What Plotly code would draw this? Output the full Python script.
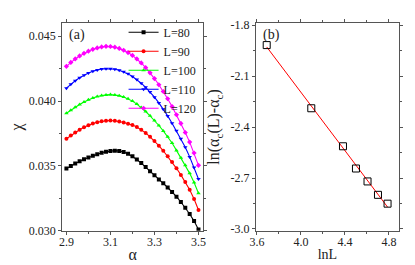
import plotly.graph_objects as go
import numpy as np

# ---------------- data ----------------
alpha = [2.90, 2.92, 2.94, 2.96, 2.98, 3.00, 3.02, 3.04, 3.06, 3.08, 3.10,
         3.12, 3.14, 3.16, 3.18, 3.20, 3.22, 3.24, 3.26, 3.28, 3.30,
         3.32, 3.34, 3.36, 3.38, 3.40, 3.42, 3.44, 3.46, 3.48, 3.50]

chi_L80 = [0.03480, 0.03500, 0.03519, 0.03536, 0.03552, 0.03566, 0.03579, 0.03591, 0.03602, 0.03610, 0.03616,
           0.03618, 0.03615, 0.03608, 0.03594, 0.03575, 0.03550, 0.03522, 0.03492, 0.03460, 0.03428,
           0.03396, 0.03366, 0.03334, 0.03300, 0.03263, 0.03222, 0.03178, 0.03130, 0.03075, 0.03010]
chi_L90 = [0.03710, 0.03735, 0.03758, 0.03779, 0.03798, 0.03814, 0.03827, 0.03837, 0.03844, 0.03848, 0.03850,
           0.03848, 0.03843, 0.03835, 0.03826, 0.03815, 0.03800, 0.03780, 0.03755, 0.03725, 0.03692,
           0.03656, 0.03617, 0.03575, 0.03530, 0.03482, 0.03431, 0.03376, 0.03317, 0.03245, 0.03160]
chi_L100 = [0.03906, 0.03930, 0.03953, 0.03974, 0.03993, 0.04010, 0.04024, 0.04035, 0.04043, 0.04048, 0.04050,
            0.04048, 0.04042, 0.04032, 0.04018, 0.04000, 0.03977, 0.03950, 0.03920, 0.03887, 0.03851,
            0.03812, 0.03770, 0.03725, 0.03677, 0.03620, 0.03564, 0.03505, 0.03443, 0.03372, 0.03290]
chi_L110 = [0.04100, 0.04130, 0.04157, 0.04180, 0.04200, 0.04216, 0.04230, 0.04240, 0.04247, 0.04250, 0.04250,
            0.04246, 0.04238, 0.04226, 0.04210, 0.04190, 0.04166, 0.04138, 0.04106, 0.04070, 0.04030,
            0.03986, 0.03938, 0.03886, 0.03830, 0.03771, 0.03710, 0.03645, 0.03570, 0.03488, 0.03400]
chi_L120 = [0.04268, 0.04298, 0.04325, 0.04348, 0.04368, 0.04385, 0.04399, 0.04410, 0.04418, 0.04422, 0.04421,
            0.04416, 0.04406, 0.04392, 0.04374, 0.04352, 0.04325, 0.04294, 0.04258, 0.04218, 0.04174,
            0.04126, 0.04074, 0.04018, 0.03958, 0.03895, 0.03828, 0.03758, 0.03684, 0.03600, 0.03505]

series_names = ["L=80", "L=90", "L=100", "L=110", "L=120"]

lnL = [3.689, 4.094, 4.382, 4.500, 4.605, 4.700, 4.787]
ln_dalpha = [-1.917, -2.289, -2.513, -2.644, -2.720, -2.799, -2.851]

a_xticks = [2.9, 3.1, 3.3, 3.5]
a_yticks = [0.030, 0.035, 0.040, 0.045]
b_xticks = [3.6, 4.0, 4.4, 4.8]
b_yticks = [-1.8, -2.1, -2.4, -2.7, -3.0]
b_yticklabels = ["-1.8", "-2.1", "-2.4", "-2.7", "-3.0"]

# ---------------- styles ----------------
FONT = "Liberation Serif"
TXT = "#222222"
AX = "#555555"
colors = ["#000000", "#ff0000", "#00ff00", "#0000ff", "#ff00ff"]
symbols = ["square", "circle", "triangle-up", "triangle-down", "diamond"]

fig = go.Figure()
for name, ys, c, s in zip(series_names, [chi_L80, chi_L90, chi_L100, chi_L110, chi_L120], colors, symbols):
    fig.add_trace(go.Scatter(x=alpha, y=ys, name=name, mode="lines+markers",
                             line=dict(color=c, width=1.1),
                             marker=dict(symbol=s, size=4, color=c),
                             xaxis="x", yaxis="y"))

# linear fit for panel (b)
k, b0 = np.polyfit(lnL, ln_dalpha, 1)
fit_x = [lnL[0], lnL[-1]]
fit_y = [k * v + b0 for v in fit_x]
fig.add_trace(go.Scatter(x=fit_x, y=fit_y, mode="lines", line=dict(color="#ff0000", width=1),
                         showlegend=False, xaxis="x2", yaxis="y2"))
fig.add_trace(go.Scatter(x=lnL, y=ln_dalpha, mode="markers",
                         marker=dict(symbol="square-open", size=7, color="#000000", line=dict(width=1)),
                         showlegend=False, xaxis="x2", yaxis="y2"))

W, H = 415, 265
def dx(p):
    return p / W
def dy(p):
    return 1 - p / H

axis_common = dict(showline=True, linecolor=AX, linewidth=1, mirror="allticks",
                   ticks="outside", ticklen=3, tickwidth=1, tickcolor=AX,
                   showgrid=False, zeroline=False,
                   tickfont=dict(family=FONT, size=12, color=TXT))

fig.update_layout(
    width=W, height=H, margin=dict(l=0, r=0, t=0, b=0),
    paper_bgcolor="white", plot_bgcolor="white",
    font=dict(family=FONT, color=TXT),
    xaxis=dict(domain=[dx(49.3), dx(193.3)], range=[2.881, 3.521], anchor="y",
               tickvals=a_xticks, ticktext=[f"{v:.1f}" for v in a_xticks],
               minor=dict(dtick=0.1, tick0=2.9, ticks="outside", ticklen=2, tickcolor=AX),
               ticklabelstandoff=-3,
               title=dict(text="α", font=dict(family=FONT, size=16, color=TXT), standoff=0),
               **axis_common),
    yaxis=dict(domain=[dy(228.3), dy(11.5)], range=[0.030, 0.04602], anchor="x",
               tickvals=a_yticks, ticktext=[f"{v:.3f}" for v in a_yticks],
               minor=dict(dtick=0.0025, tick0=0.030, ticks="outside", ticklen=2, tickcolor=AX),
               title=dict(text="χ", font=dict(family=FONT, size=16, color=TXT), standoff=4),
               **axis_common),
    xaxis2=dict(domain=[dx(247.3), dx(393.3)], range=[3.591, 4.889], anchor="y2",
                tickvals=b_xticks, ticktext=[f"{v:.1f}" for v in b_xticks],
                minor=dict(dtick=0.2, tick0=3.6, ticks="outside", ticklen=2, tickcolor=AX),
                ticklabelstandoff=-3,
                title=dict(text="lnL", font=dict(family=FONT, size=14, color=TXT), standoff=0),
                **axis_common),
    yaxis2=dict(domain=[dy(228.3), dy(11.5)], range=[-3.011, -1.787], anchor="x2",
                tickvals=b_yticks, ticktext=b_yticklabels,
                minor=dict(dtick=0.15, tick0=-3.0, ticks="outside", ticklen=2, tickcolor=AX),
                title=dict(text="ln(α<sub>c</sub>(L)-α<sub>c</sub>)", font=dict(family=FONT, size=16, color=TXT), standoff=6),
                **axis_common),
    legend=dict(x=dx(112), y=dy(6), xanchor="left", yanchor="top",
                bgcolor="rgba(0,0,0,0)", borderwidth=0,
                font=dict(family=FONT, size=12, color=TXT),
                itemwidth=30, tracegroupgap=0),
    annotations=[
        dict(text="(a)", x=dx(54), y=dy(24), xref="paper", yref="paper", xanchor="left", yanchor="middle",
             showarrow=False, font=dict(family=FONT, size=14, color=TXT)),
        dict(text="(b)", x=dx(252), y=dy(24), xref="paper", yref="paper", xanchor="left", yanchor="middle",
             showarrow=False, font=dict(family=FONT, size=14, color=TXT)),
    ],
)

fig.write_html("out.html")
